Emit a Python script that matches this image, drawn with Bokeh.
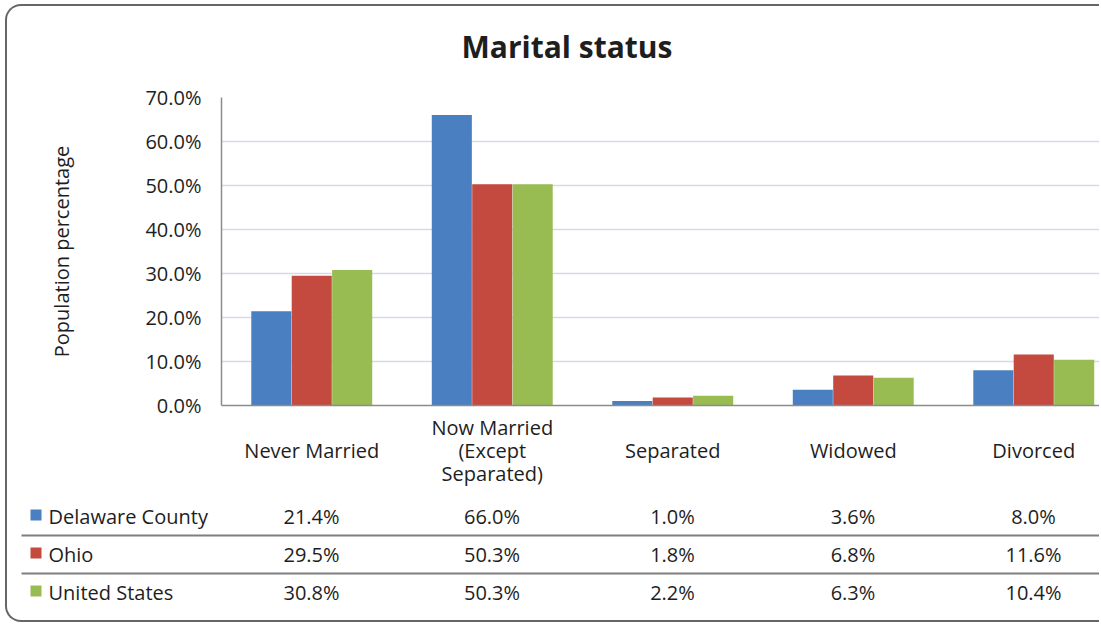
from bokeh.plotting import figure
from bokeh.models import Range1d, FixedTicker, PrintfTickFormatter, ColumnDataSource, LinearAxis
from bokeh.transform import dodge
from bokeh.embed import file_html
from bokeh.resources import INLINE
from bokeh.core.properties import value

# ---------------- data ----------------
categories = ["Never Married", "Now Married\n(Except\nSeparated)", "Separated", "Widowed", "Divorced"]
series_names = ["Delaware County", "Ohio", "United States"]
delaware = [21.4, 66.0, 1.0, 3.6, 8.0]
ohio = [29.5, 50.3, 1.8, 6.8, 11.6]
united_states = [30.8, 50.3, 2.2, 6.3, 10.4]
y_ticks = [0, 10, 20, 30, 40, 50, 60, 70]

# ---------------- styles / layout constants ----------------
FONT = "Open Sans"
TXT = "#1e1e1e"
COLORS = ["#4a7fc1", "#c4493f", "#98bb52"]
BORDER = "2px solid #666666"
W = 1094
H_TOP = 484
H_BOT = 134
FRAME_W = 880
PX = 180.5          # pixels per category
PAGE_X0 = 7         # page x of figure content
CAT1_X = 311        # page x of first category centre
ROW0_Y = 518        # page y of first table row
ROW_H = 38
BOT_Y0 = 490        # page y of table figure top

xs = list(range(1, len(categories) + 1))
all_series = [delaware, ohio, united_states]

# ---------------- chart ----------------
src = ColumnDataSource(dict(x=xs, d=delaware, o=ohio, u=united_states))

p = figure(width=W, height=H_TOP,
           x_range=Range1d(0.5, 0.5 + FRAME_W / PX),
           y_range=Range1d(0, 70),
           output_backend="svg", toolbar_location=None,
           min_border_left=214, min_border_right=0,
           min_border_top=91, min_border_bottom=85,
           styles={
               "margin-left": "5px",
               "margin-top": "4px",
               "border-top": BORDER,
               "border-left": BORDER,
               "border-top-left-radius": "16px",
           })
p.border_fill_color = None
p.background_fill_color = None
p.outline_line_color = None

yax = p.yaxis[0]
xax = p.xaxis[0]

p.title.text = "Marital status"
p.title.align = "left"
p.title.offset = 240
p.title.text_font = FONT
p.title.text_font_size = "30px"
p.title.text_font_style = "bold"
p.title.text_color = TXT
p.title.standoff = 32

# invisible spacer between the title and the plot area
spacer = LinearAxis(ticker=FixedTicker(ticks=[xs[0]]), axis_line_color=None,
                    major_tick_out=15, major_tick_in=0, minor_tick_out=0, minor_tick_in=0,
                    major_tick_line_color=None, minor_tick_line_color=None,
                    major_label_standoff=0, major_label_text_font_size="1px",
                    major_label_text_color=None,
                    major_label_overrides={xs[0]: " "})
p.add_layout(spacer, "above")

offsets = [-0.224, 0.0, 0.224]
for col_name, off, c in zip(["d", "o", "u"], offsets, COLORS):
    p.vbar(x=dodge("x", off, range=p.x_range), top=col_name, width=0.222,
           source=src, fill_color=c, line_color=None)

# y axis
yax.ticker = FixedTicker(ticks=y_ticks)
yax.formatter = PrintfTickFormatter(format="%.1f%%")
yax.major_tick_out = 0
yax.major_tick_in = 0
yax.minor_tick_out = 0
yax.minor_tick_in = 0
yax.major_label_standoff = 20
yax.major_label_text_font = FONT
yax.major_label_text_font_size = "20px"
yax.major_label_text_color = TXT
yax.axis_line_color = "#8c8c8c"
yax.axis_line_width = 1.5
yax.axis_label = "Population percentage"
yax.axis_label_text_font = FONT
yax.axis_label_text_font_size = "20px"
yax.axis_label_text_font_style = "normal"
yax.axis_label_text_color = TXT
yax.axis_label_standoff = 67

# x axis
xax.ticker = FixedTicker(ticks=xs)
labels = {}
for x, c in zip(xs, categories):
    labels[x] = c if c.count("\n") == 2 else "\n" + c + "\n"
xax.major_label_overrides = labels
xax.major_tick_out = 0
xax.major_tick_in = 0
xax.minor_tick_out = 0
xax.minor_tick_in = 0
xax.major_label_standoff = 8
xax.major_label_text_font = FONT
xax.major_label_text_font_size = "20px"
xax.major_label_text_line_height = 0.87
xax.major_label_text_color = TXT
xax.axis_line_color = "#8c8c8c"
xax.axis_line_width = 1.5

p.xgrid.grid_line_color = None
p.ygrid.grid_line_color = "#d4dbe6"
p.ygrid.grid_line_width = 1.5

# ---------------- data table ----------------
x_start = 1 + (PAGE_X0 - CAT1_X) / PX
x_end = 1 + (PAGE_X0 + W - CAT1_X) / PX
y_top = (BOT_Y0 - ROW0_Y) / ROW_H
y_bot = (BOT_Y0 + H_BOT - ROW0_Y) / ROW_H

t = figure(width=W, height=H_BOT, x_range=Range1d(x_start, x_end),
           y_range=Range1d(y_bot, y_top), output_backend="svg",
           toolbar_location=None, x_axis_location=None, y_axis_location=None,
           min_border=0, title=None,
           styles={
               "margin-left": "5px",
               "border-left": BORDER,
               "border-bottom": BORDER,
               "border-bottom-left-radius": "16px",
           })
t.border_fill_color = None
t.background_fill_color = None
t.outline_line_color = None
t.grid.visible = False

tx, ty, tt = [], [], []
for i, vals in enumerate(all_series):
    for x, v in zip(xs, vals):
        tx.append(x)
        ty.append(i)
        tt.append(f"{v:.1f}%")
t.text(x=tx, y=ty, text=tt, text_font=value(FONT), text_font_size="20px",
       text_color=TXT, text_align="center", text_baseline="middle")

rows = list(range(len(series_names)))
name_x = x_start + (48 - PAGE_X0) / PX
key_x = x_start + (35.5 - PAGE_X0) / PX
t.text(x=[name_x] * len(rows), y=rows, text=series_names, text_font=value(FONT),
       text_font_size="20px", text_color=TXT, text_align="left", text_baseline="middle")
t.scatter(x=[key_x] * len(rows), y=[r - 0.04 for r in rows], marker="square", size=11,
          fill_color=COLORS, line_color=None)

line_x0 = x_start + (21 - PAGE_X0) / PX
seps = [r + 0.5 for r in rows[:-1]]
t.segment(x0=[line_x0] * len(seps), x1=[x_end] * len(seps), y0=seps, y1=seps,
          line_color="#7f7f7f", line_width=2)

open("out.html", "w").write(file_html([p, t], INLINE))
